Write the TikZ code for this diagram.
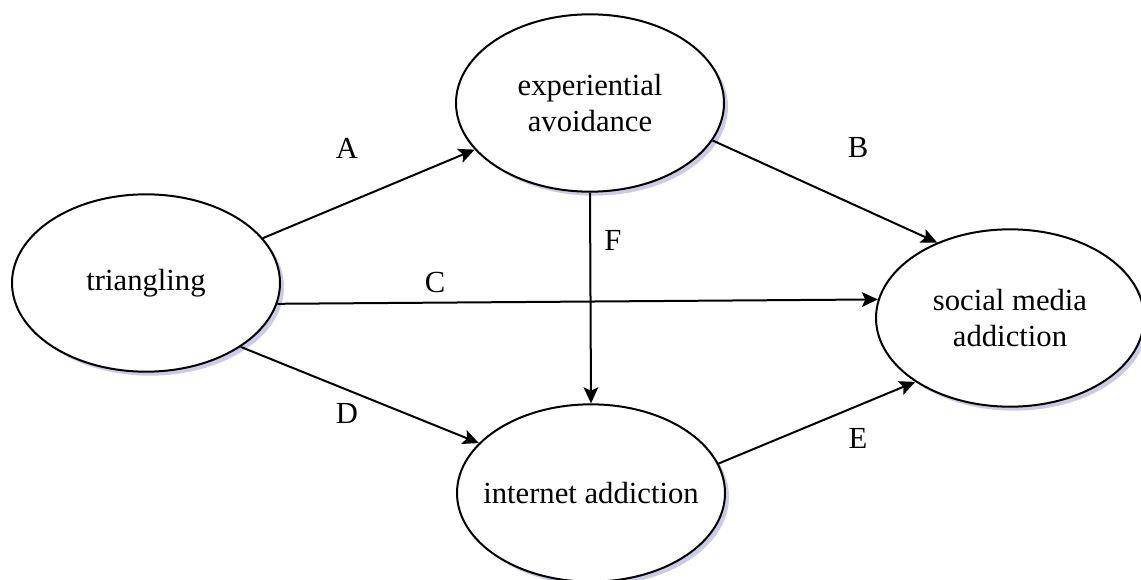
\documentclass[tikz,border=0pt]{standalone}
\usepackage{fontspec}
\setmainfont{Liberation Serif}
\usetikzlibrary{shapes.geometric,arrows.meta,shadows}
\begin{document}
\begin{tikzpicture}[x=0.75pt,y=-0.75pt,
  every node/.style={font=\fontsize{23}{27}\selectfont},
  oval/.style={ellipse, draw=black, line width=1.5pt, fill=white,
    minimum width=201pt, minimum height=133pt, inner sep=0pt, align=center,
    drop shadow={shadow xshift=3pt, shadow yshift=-3pt, opacity=0.3, fill=blue!35!gray}},
  conn/.style={line width=1.5pt, -{Stealth[length=12pt,width=11pt,inset=2.5pt]}},
  lbl/.style={inner sep=0pt}]
\useasboundingbox (0,0) rectangle (1141,579);
\node[oval] (tri) at (146,283) {\makebox[0pt]{triangling}};
\node[oval] (exp) at (590,103) {\makebox[0pt]{experiential}\\\makebox[0pt]{avoidance}};
\node[oval] (soc) at (1010,318) {\makebox[0pt]{social media}\\\makebox[0pt]{addiction}};
\node[oval] (int) at (591,493) {\makebox[0pt]{internet addiction}};

\draw[conn] (tri.21) -- (exp.202);
\draw[conn] (exp.-17) -- (soc.134);
\draw[conn] (tri.-9) -- (soc.172);
\draw[conn] (exp.south) -- (int.north);
\draw[conn] (tri.-34) -- (int.156);
\draw[conn] (int.13) -- (soc.214);

\node[lbl] (la) at (347,148) {A};
\node[lbl] (lb) at (858,147) {B};
\node[lbl] (lc) at (435,282) {C};
\node[lbl] (lf) at (613,240) {F};
\node[lbl] (ld) at (347,413) {D};
\node[lbl] (le) at (858,438) {E};
\end{tikzpicture}
\end{document}
